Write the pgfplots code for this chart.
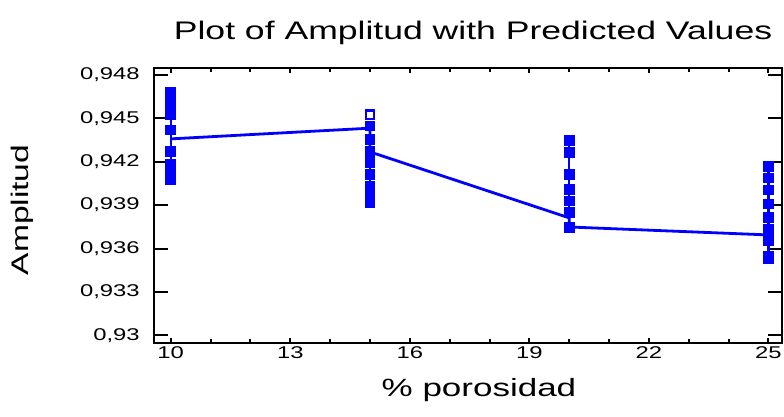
\documentclass[border=0pt]{standalone}
\usepackage{fontspec}
\setmainfont[FakeStretch=1.4]{Liberation Sans}
\usepackage{pgfplots}
\pgfplotsset{compat=1.18}
\definecolor{sgblue}{RGB}{0,0,255}
\begin{document}
\begin{tikzpicture}
\begin{axis}[
    scale only axis,
    width=314pt, height=137.5pt,
    xmin=9.58, xmax=25.34,
    ymin=0.92947, ymax=0.94848,
    xtick={10,13,16,19,22,25},
    minor x tick num=2,
    ytick={0.93,0.933,0.936,0.939,0.942,0.945,0.948},
    scaled y ticks=false,
    /pgf/number format/assume math mode=true,
    yticklabel style={/pgf/number format/fixed, /pgf/number format/precision=3, /pgf/number format/use comma},
    tick label style={font=\fontsize{8.5}{10}\selectfont},
    yticklabel style={anchor=east, inner sep=0pt, xshift=-7pt},
    xticklabel style={anchor=north, inner sep=0pt, yshift=-1.5pt},
    axis line style={line width=1.1pt},
    every tick/.style={black, line width=1pt},
    xtick style={/pgfplots/major tick length=2.5pt, /pgfplots/minor tick length=2pt},
    ytick style={/pgfplots/major tick length=7pt},
    title={Plot of Amplitud with Predicted Values},
    title style={font=\fontsize{12.7}{14}\selectfont, at={(axis description cs:0.5,1)}, anchor=center, yshift=11.5pt, xshift=2.5pt},
    xlabel={\% porosidad},
    xlabel style={font=\fontsize{12.5}{14}\selectfont, at={(axis description cs:0.5,0)}, anchor=center, yshift=-23.5pt, xshift=5.5pt},
    ylabel={Amplitud},
    ylabel style={font=\fontsize{12}{14}\selectfont, at={(axis description cs:0,0.5)}, anchor=center, yshift=66pt, xshift=-2.25pt},
]
\coordinate (ll) at (rel axis cs:0,0);
\coordinate (ur) at (rel axis cs:1,1);
% observed values, one column per porosity level
\addplot[sgblue, line width=1.2pt, mark=square*, mark size=2.1pt, mark options={solid, fill=sgblue, rounded corners=0.6pt}] coordinates {
    (10,0.94678) (10,0.94600) (10,0.94524) (10,0.94420) (10,0.94268)
    (10,0.94185) (10,0.94114) (10,0.94074)
};
\addplot[sgblue, line width=1.2pt, mark=square*, mark size=2.1pt, mark options={solid, fill=sgblue, rounded corners=0.6pt}] coordinates {
    (15,0.94447) (15,0.94351) (15,0.94270) (15,0.94192) (15,0.94109)
    (15,0.94028) (15,0.93950) (15,0.93915)
};
\addplot[sgblue, line width=1.2pt, mark=square, mark size=2.1pt, mark options={solid, fill=white}] coordinates {
    (15,0.94524)
};
\addplot[sgblue, line width=1.2pt, mark=square*, mark size=2.1pt, mark options={solid, fill=sgblue, rounded corners=0.6pt}] coordinates {
    (20,0.94346) (20,0.94266) (20,0.94109) (20,0.94010) (20,0.93929)
    (20,0.93851) (20,0.93747)
};
\addplot[sgblue, line width=1.2pt, mark=square*, mark size=2.1pt, mark options={solid, fill=sgblue, rounded corners=0.6pt}] coordinates {
    (25,0.94166) (25,0.94088) (25,0.94005) (25,0.93908) (25,0.93812)
    (25,0.93729) (25,0.93655) (25,0.93544) (25,0.93530)
};
% predicted values
\addplot[sgblue, line width=1.4pt, no markers] coordinates {
    (10,0.94358) (15,0.94432) (15,0.94268) (20,0.93812) (20,0.93749) (25,0.93694)
};
\end{axis}
\pgfresetboundingbox
\path[use as bounding box] ([shift={(-77pt,-37pt)}]ll) rectangle ([shift={(1pt,34pt)}]ur);
\end{tikzpicture}
\end{document}
